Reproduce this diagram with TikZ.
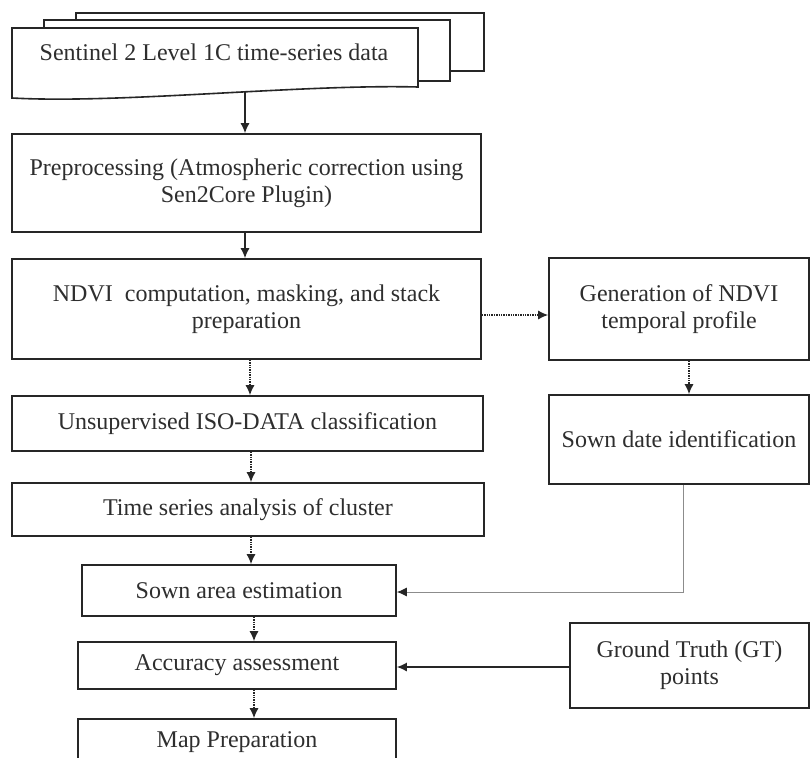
\documentclass[tikz,border=0pt]{standalone}
\usepackage{fontspec}
\setmainfont{Liberation Serif}
\usetikzlibrary{arrows.meta}
\definecolor{linec}{HTML}{262626}
\definecolor{textc}{HTML}{2E2E2E}
\definecolor{greyline}{HTML}{8C8C8C}
\begin{document}
\begin{tikzpicture}[x=1pt,y=-1pt,
  box/.style={draw=linec, line width=1.6pt, fill=white, inner sep=0pt, align=center,
    font=\fontsize{24}{27}\selectfont, text=textc},
  doc/.style={draw=linec, line width=1.6pt, fill=white},
  arr/.style={draw=linec, line width=1.4pt, -{Latex[length=10pt,width=9pt]}},
  darr/.style={arr, densely dotted},
  garr/.style={draw=greyline, line width=1pt, -{Latex[length=10pt,width=9pt,color=linec]}}]
\useasboundingbox (0,0) rectangle (810,757);
\fill[white] (0,0) rectangle (810,757);

% stacked documents
\draw[doc] (76,13) rectangle (484,71);
\draw[doc] (44,20) rectangle (450,81);
\draw[doc] (12,98) -- (12,28) -- (418,28) -- (418,87)
  .. controls (300,84) and (120,104) .. (12,98) -- cycle;
\node[font=\fontsize{24}{27}\selectfont, text=textc, inner sep=0pt] (sen) at (214,52)
  {Sentinel 2 Level 1C time-series data};
\coordinate (senb) at (245,91);

% main column
\node[box, minimum width=469pt, minimum height=98pt] (pre) at (246.5,183)
  {Preprocessing (Atmospheric correction using\\Sen2Core Plugin)};
\node[box, minimum width=469pt, minimum height=100pt] (ndvi) at (246.5,309)
  {NDVI\ \ computation, masking, and stack\\preparation};
\node[box, minimum width=471pt, minimum height=55pt] (uns) at (247.5,423.5)
  {Unsupervised ISO-DATA classification};
\node[box, minimum width=472pt, minimum height=53pt] (ts) at (248,509.5)
  {Time series analysis of cluster};
\node[box, minimum width=314pt, minimum height=51pt] (sa) at (239,590.5)
  {Sown area estimation};
\node[box, minimum width=318pt, minimum height=47pt] (acc) at (237,665.5)
  {Accuracy assessment};
\node[box, minimum width=318pt, minimum height=46pt] (map) at (237,742)
  {Map Preparation};

% right column
\node[box, minimum width=260pt, minimum height=102pt] (gen) at (679,309)
  {Generation of NDVI\\temporal profile};
\node[box, minimum width=260pt, minimum height=89pt] (sd) at (679,439.5)
  {Sown date identification};
\node[box, minimum width=239pt, minimum height=85pt] (gt) at (689.5,665.5)
  {Ground Truth (GT)\\points};

% guide coordinates
\coordinate (xa) at (245,0);
\coordinate (xb) at (250,0);
\coordinate (xc) at (251,0);
\coordinate (xd) at (254,0);
\coordinate (xe) at (689,0);
\coordinate (xf) at (683,0);
\coordinate (ya) at (0,315);
\coordinate (yb) at (0,592);
\coordinate (yc) at (0,667);

% connectors
\draw[arr] (senb) -- (pre.north -| xa);
\draw[arr] (pre.south -| xa) -- (ndvi.north -| xa);
\draw[darr] (ndvi.south -| xb) -- (uns.north -| xb);
\draw[darr] (uns.south -| xc) -- (ts.north -| xc);
\draw[darr] (ts.south -| xc) -- (sa.north -| xc);
\draw[darr] (sa.south -| xd) -- (acc.north -| xd);
\draw[darr] (acc.south -| xd) -- (map.north -| xd);
\draw[darr] (ndvi.east |- ya) -- (gen.west |- ya);
\draw[darr] (gen.south -| xe) -- (sd.north -| xe);
\draw[garr] (sd.south -| xf) |- (sa.east |- yb);
\draw[arr] (gt.west |- yc) -- (acc.east |- yc);
\end{tikzpicture}
\end{document}
